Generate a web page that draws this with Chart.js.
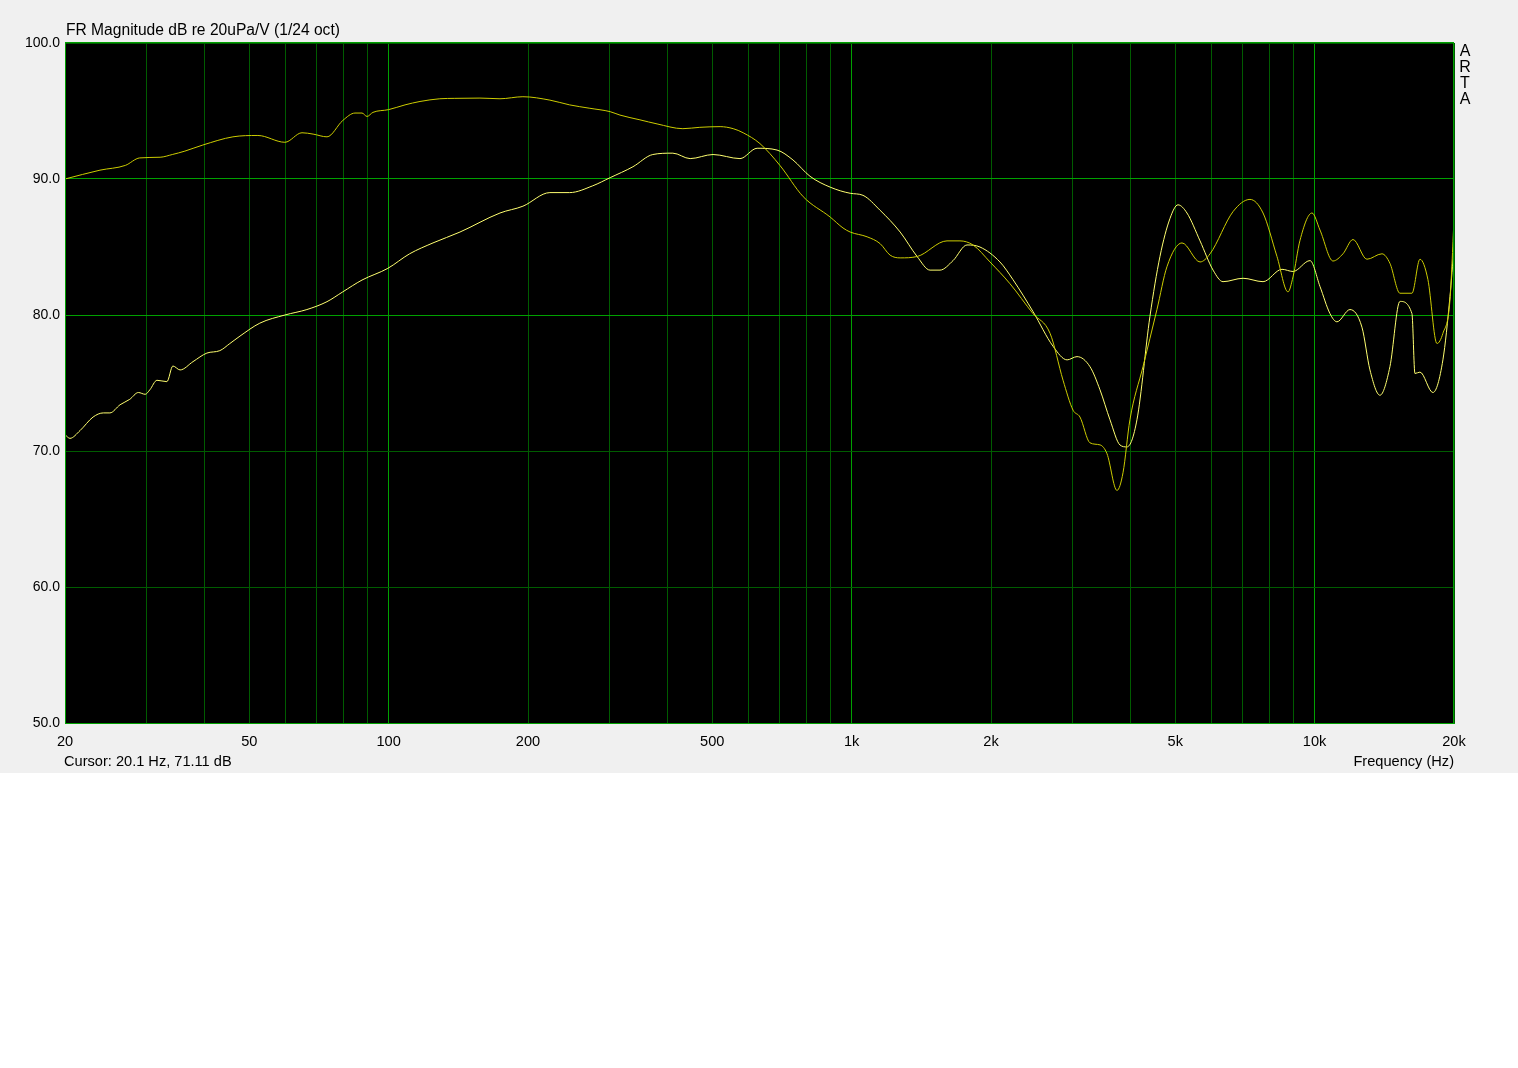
<!DOCTYPE html>
<html>
<head>
<meta charset="utf-8">
<script src="https://cdn.jsdelivr.net/npm/chart.js@4/dist/chart.umd.min.js"></script>
<style>
  html, body { margin: 0; padding: 0; background: #ffffff; }
  #wrap { width: 1518px; height: 773px; background: #f0f0f0; position: relative; }
  canvas { display: block; }
</style>
</head>
<body>
<div id="wrap"><canvas id="c" width="1518" height="773"></canvas></div>
<script>
// ---- Data ----
const freqA = [20, 23.8, 27, 29, 32.1, 34.1, 36.3, 39.7, 46.1, 52.2, 59.7, 65, 68.7, 73.6, 79.6, 84.6, 87.6, 89.8, 92.5, 100,
  108.5, 116.9, 129, 139, 157.5, 174, 195, 223, 246, 272, 301, 316, 349, 380, 432, 470, 520, 555, 583, 634,
  700, 786, 899, 958, 993, 1080, 1152, 1211, 1273, 1385, 1607, 1714, 1829, 1990, 2198, 2465, 2683, 2862, 3008, 3113,
  3272, 3439, 3561, 3742, 3856, 3991, 4259, 4565, 4798, 5171, 5656, 5945, 6664, 7251, 7737, 8293, 8760, 8981, 9300, 9870,
  10270, 10957, 11515, 12102, 12973, 13976, 14543, 15285, 16226, 16884, 17568, 18375, 18927, 19603, 20000];
const dbA = [90.0, 90.65, 91.0, 91.55, 91.6, 91.8, 92.05, 92.5, 93.1, 93.2, 92.7, 93.4, 93.3, 93.1, 94.3, 94.85, 94.85, 94.6, 94.9, 95.1,
  95.45, 95.7, 95.9, 95.93, 95.95, 95.9, 96.05, 95.8, 95.45, 95.2, 94.95, 94.7, 94.35, 94.05, 93.7, 93.8, 93.85, 93.7, 93.4, 92.6,
  91.0, 88.7, 87.2, 86.4, 86.1, 85.75, 85.25, 84.4, 84.2, 84.3, 85.45, 85.45, 85.15, 83.9, 82.3, 80.1, 78.65, 75.2, 73.0, 72.5,
  70.6, 70.45, 69.8, 67.1, 68.4, 72.3, 76.2, 80.4, 83.55, 85.3, 83.9, 84.5, 87.6, 88.5, 87.5, 84.3, 81.7, 82.8, 85.5, 87.5,
  86.25, 83.97, 84.5, 85.55, 84.1, 84.5, 83.8, 81.6, 81.6, 84.1, 82.6, 77.9, 78.65, 81.1, 87.0];

const freqB = [20, 20.5, 21.55, 23.0, 24.2, 25.0, 26.3, 27.6, 28.8, 29.8, 30.5, 31.6, 33.2, 34.2, 35.45, 37.8, 40.5, 43.2, 45.4, 47.75,
  52.7, 59.7, 66.6, 73.6, 79.6, 87.6, 99.6, 111, 124.7, 142.6, 174, 195, 223, 246, 276, 301, 337, 372, 411, 448,
  502, 574, 625, 690, 747, 813, 899, 993, 1058, 1152, 1273, 1385, 1477, 1552, 1656, 1775, 1893, 2091, 2231, 2465,
  2723, 2920, 3068, 3272, 3439, 3614, 3799, 3933, 4133, 4409, 4634, 4871, 5069, 5300, 5656, 6035, 6341, 7004, 7737, 8502,
  8981, 9773, 10270, 10794, 11176, 11922, 12654, 13168, 13838, 14543, 15285, 16226, 16470, 16884, 18010, 18927, 19603, 20000];
const dbB = [71.2, 70.93, 71.5, 72.5, 72.8, 72.8, 73.4, 73.8, 74.3, 74.17, 74.5, 75.2, 75.1, 76.25, 75.96, 76.57, 77.2, 77.38, 77.9, 78.45,
  79.4, 80.0, 80.4, 80.98, 81.7, 82.57, 83.43, 84.5, 85.3, 86.1, 87.5, 88.0, 89.0, 89.0, 89.5, 90.1, 90.9, 91.8, 91.9, 91.5,
  91.8, 91.5, 92.26, 92.13, 91.4, 90.2, 89.4, 88.95, 88.8, 87.7, 86.1, 84.3, 83.3, 83.3, 84.0, 85.15, 85.0, 83.9, 82.6, 80.25,
  77.7, 76.7, 76.94, 76.2, 74.5, 72.3, 70.44, 70.3, 72.3, 79.9, 84.3, 87.1, 88.1, 87.5, 85.45, 83.3, 82.45, 82.7, 82.45, 83.36,
  83.2, 84.0, 82.1, 80.1, 79.5, 80.4, 79.1, 75.96, 74.1, 76.2, 81.0, 80.1, 75.7, 75.8, 74.3, 76.7, 81.35, 85.0];

const xGridValues = [20, 30, 40, 50, 60, 70, 80, 90, 100, 200, 300, 400, 500, 600, 700, 800, 900,
  1000, 2000, 3000, 4000, 5000, 6000, 7000, 8000, 9000, 10000, 20000];
const xTickLabels = {20: '20', 50: '50', 100: '100', 200: '200', 500: '500', 1000: '1k', 2000: '2k', 5000: '5k', 10000: '10k', 20000: '20k'};
const xMajor = [100, 1000, 10000];
const yMajor = [90, 80];

const titleText = 'FR Magnitude dB re 20uPa/V (1/24 oct)';
const cursorText = 'Cursor: 20.1 Hz, 71.11 dB';
const xAxisTitle = 'Frequency (Hz)';
const brandLetters = ['A', 'R', 'T', 'A'];
const cursorFreq = 20.1;

// ---- Styling ----
const FONT = '"Liberation Sans", Arial, sans-serif';
const BRIGHT = '#00a000';
const DIM = '#005c00';

const toPts = (fs, ds) => fs.map((f, i) => ({x: f, y: ds[i]}));

const decor = {
  id: 'decor',
  beforeDraw(chart) {
    const {ctx, chartArea: a} = chart;
    ctx.save();
    ctx.fillStyle = '#000000';
    ctx.fillRect(a.left, a.top, a.right - a.left, a.bottom - a.top);
    ctx.restore();
  },
  beforeDatasetsDraw(chart) {
    const {ctx, chartArea: a, scales} = chart;
    ctx.save();
    ctx.strokeStyle = '#ffff80';
    ctx.lineWidth = 1;
    const x = Math.round(scales.x.getPixelForValue(cursorFreq)) - 0.5;
    ctx.beginPath();
    ctx.moveTo(x, a.top);
    ctx.lineTo(x, a.bottom);
    ctx.stroke();
    ctx.restore();
  },
  afterDraw(chart) {
    const {ctx, chartArea: a} = chart;
    ctx.save();
    ctx.strokeStyle = BRIGHT;
    ctx.lineWidth = 1;
    ctx.strokeRect(Math.round(a.left) + 0.5, Math.round(a.top) - 0.5, Math.round(a.right - a.left) - 1, Math.round(a.bottom - a.top) + 1);
    ctx.fillStyle = '#000000';
    ctx.textBaseline = 'middle';
    ctx.textAlign = 'left';
    ctx.font = '15.6px ' + FONT;
    ctx.fillText(titleText, a.left + 1, 31);
    ctx.font = '14.6px ' + FONT;
    ctx.fillText(cursorText, a.left - 1, 762);
    ctx.textAlign = 'right';
    ctx.fillText(xAxisTitle, a.right, 762);
    ctx.textAlign = 'center';
    ctx.font = '16px ' + FONT;
    brandLetters.forEach((ch, i) => ctx.fillText(ch, a.right + 11, 52 + i * 16));
    ctx.restore();
  }
};

new Chart(document.getElementById('c'), {
  type: 'line',
  data: {
    datasets: [
      {data: toPts(freqA, dbA), borderColor: '#cccc00', borderWidth: 1, pointRadius: 0, cubicInterpolationMode: 'monotone', fill: false},
      {data: toPts(freqB, dbB), borderColor: '#ffff70', borderWidth: 1, pointRadius: 0, cubicInterpolationMode: 'monotone', fill: false}
    ]
  },
  options: {
    responsive: false,
    animation: false,
    devicePixelRatio: 1,
    layout: {padding: {top: 43, right: 64, bottom: 0, left: 0}},
    plugins: {legend: {display: false}, tooltip: {enabled: false}, title: {display: false}},
    scales: {
      x: {
        type: 'logarithmic',
        min: 20, max: 20000,
        afterBuildTicks: (s) => { s.ticks = xGridValues.map(v => ({value: v})); },
        afterFit: (s) => { s.height = 50; },
        ticks: {
          autoSkip: false, maxRotation: 0, minRotation: 0, padding: 10,
          color: '#000000', font: {family: FONT, size: 14.6},
          callback: (v) => (xTickLabels[v] !== undefined ? xTickLabels[v] : '')
        },
        grid: {
          drawTicks: false,
          color: (c) => (c.tick && xMajor.includes(c.tick.value) ? BRIGHT : DIM),
          lineWidth: 1
        },
        border: {display: true, color: BRIGHT}
      },
      y: {
        min: 50, max: 100,
        afterFit: (s) => { s.width = 65; },
        ticks: {
          stepSize: 10, padding: 5, color: '#000000', font: {family: FONT, size: 14},
          callback: (v) => Number(v).toFixed(1)
        },
        grid: {
          drawTicks: false,
          color: (c) => (c.tick && yMajor.includes(c.tick.value) ? BRIGHT : DIM),
          lineWidth: 1
        },
        border: {display: true, color: BRIGHT}
      }
    }
  },
  plugins: [decor]
});
</script>
</body>
</html>
